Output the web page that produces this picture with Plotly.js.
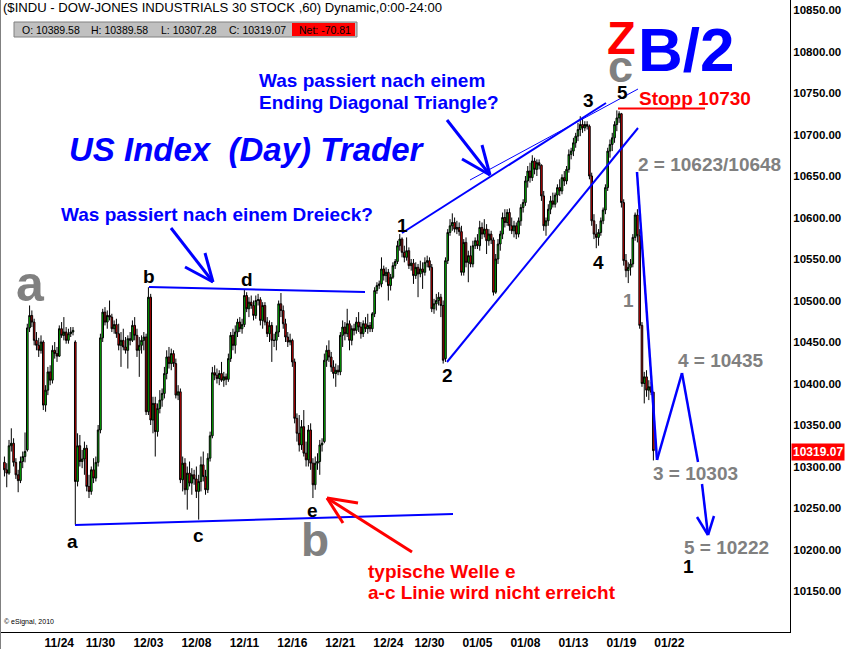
<!DOCTYPE html>
<html>
<head>
<meta charset="utf-8">
<script src="https://cdn.plot.ly/plotly-3.0.1.min.js"></script>
<style>html,body{margin:0;padding:0;background:#fff;}#chart{width:847px;height:649px;}</style>
</head>
<body>
<div id="chart"></div>
<script>
// ---------------- DATA (hourly bars, $INDU, 60 min) ----------------
const tickLabels = ['11/24','11/30','12/03','12/08','12/11','12/16','12/21','12/24','12/30','01/05','01/08','01/13','01/19','01/22'];
const tickBars   = [17,35,56,77,98,119,140,161,179,200,221,242,263,284];
const priceTicks = [10150,10200,10250,10300,10350,10400,10450,10500,10550,10600,10650,10700,10750,10800,10850];
const netChange = -70.81;

const open = [
10305,10296,10292,
10325,10328,10305,10290,10283,10306,10312,
10320,10467,10482,10474,10452,10446,10440,
10450,10374,10392,10414,10404,10440,10436,
10433,10466,10458,10462,10452,10460,10462,
10450,10282,10325,10306,
10309,10322,10276,10270,10296,10286,10305,
10344,10455,10486,10474,10482,10480,10466,
10471,10460,10446,10452,10444,10440,10454,
10452,10470,10458,10440,10446,10452,10456,
10366,10504,10356,10376,10342,10370,10380,
10388,10412,10432,10424,10436,10424,10386,
10390,10284,10304,10272,10292,10280,10290,
10285,10270,10282,10302,10288,10272,10310,
10337,10413,10410,10406,10412,10404,10408,
10405,10430,10458,10446,10462,10474,10466,
10471,10506,10490,10498,10494,10482,10500,
10501,10476,10494,10474,10460,10470,10452,
10452,10462,10496,10488,10472,10456,10450,
10452,10426,10358,10340,10326,10348,10316,
10308,10344,10304,10278,10304,10306,10326,
10330,10428,10440,10432,10420,10412,10416,
10414,10458,10468,10460,10472,10452,10466,
10464,10474,10468,10460,10472,10466,10470,
10466,10484,10512,10518,
10520,10538,10530,10534,10518,10528,10542,
10547,10566,10574,10558,10552,10560,10542,
10545,10530,10540,10532,10538,10534,10546,
10548,10540,10490,10496,10500,10504,10494,
10430,10548,10582,10590,10594,10586,10588,
10583,10534,10570,10546,10554,10544,10566,
10572,10566,10588,10580,10586,10572,10580,
10573,10510,10550,10568,10580,10600,10594,
10606,10590,10584,10590,10580,10596,10612,
10618,10644,10656,10648,10668,10658,10666,
10663,10626,10590,10596,10610,10620,10616,
10627,10636,10632,10648,10644,10658,10676,
10680,10690,10698,10706,10712,10708,10712,
10710,10650,10596,10580,10576,10582,10596,
10609,10636,10680,10688,10696,10712,10720,
10725,10618,10548,10536,10540,10544,10576,
10603,10578,10470,10400,10408,10392,10396,
10389.58
];
const high = [
10312,10304,10332,
10346,10334,10310,10296,10312,10318,10341,
10472,10494,10488,10478,10462,10455,10458,
10452,10398,10420,10422,10446,10450,10444,
10470,10474,10480,10468,10466,10468,10468,
10452,10340,10338,10320,
10330,10326,10290,10300,10310,10312,10350,
10460,10490,10492,10488,10500,10484,10476,
10478,10472,10462,10466,10456,10458,10462,
10476,10480,10466,10456,10458,10462,10460,
10516,10508,10384,10384,10376,10392,10394,
10420,10440,10444,10442,10440,10430,10398,
10394,10312,10310,10300,10306,10298,10296,
10300,10290,10312,10318,10296,10316,10342,
10420,10422,10418,10416,10426,10414,10412,
10436,10462,10466,10470,10478,10480,10478,
10513,10510,10504,10506,10500,10506,10508,
10504,10498,10498,10480,10476,10474,10460,
10470,10500,10509,10494,10478,10462,10460,
10454,10430,10364,10362,10356,10368,10330,
10350,10352,10310,10312,10316,10332,10334,
10436,10446,10452,10438,10428,10424,10422,
10462,10476,10474,10490,10476,10470,10472,
10480,10486,10474,10476,10480,10484,10474,
10486,10516,10522,10524,
10552,10542,10540,10538,10532,10546,10550,
10572,10580,10576,10566,10576,10564,10550,
10550,10546,10544,10548,10546,10552,10554,
10552,10544,10502,10508,10510,10508,10500,
10552,10586,10598,10605,10600,10596,10594,
10590,10574,10576,10560,10566,10572,10576,
10580,10596,10594,10598,10592,10586,10584,
10576,10556,10574,10584,10606,10610,10610,
10611,10600,10596,10594,10600,10616,10622,
10650,10662,10666,10675,10672,10670,10670,
10664,10632,10600,10616,10626,10630,10630,
10640,10646,10652,10656,10662,10682,10684,
10696,10702,10714,10722,10720,10716,10716,
10712,10654,10604,10592,10586,10600,10612,
10640,10684,10694,10702,10716,10729,10728,
10726,10622,10556,10546,10550,10580,10606,
10610,10586,10474,10414,10416,10404,10402,
10389.58
];
const low = [
10288,10275,10290,
10318,10300,10285,10269,10280,10298,10305,
10318,10462,10468,10446,10440,10432,10436,
10368,10366,10386,10398,10400,10430,10426,
10432,10455,10452,10448,10448,10456,10458,
10230,10276,10300,10298,
10290,10270,10262,10266,10280,10282,10300,
10340,10450,10470,10466,10476,10462,10460,
10455,10440,10420,10440,10436,10418,10446,
10450,10452,10432,10408,10436,10440,10362,
10362,10350,10340,10312,10336,10364,10372,
10382,10405,10418,10416,10420,10382,10380,
10280,10270,10266,10248,10276,10266,10278,
10262,10236,10270,10282,10266,10268,10306,
10334,10404,10400,10398,10402,10396,10398,
10402,10426,10440,10436,10456,10462,10460,
10468,10486,10480,10490,10476,10478,10494,
10470,10466,10470,10456,10450,10426,10444,
10440,10456,10480,10466,10450,10444,10446,
10420,10352,10330,10318,10320,10312,10300,
10300,10296,10262,10272,10296,10290,10318,
10328,10420,10426,10414,10406,10396,10410,
10410,10444,10452,10456,10440,10446,10458,
10460,10462,10454,10456,10462,10460,10462,
10462,10480,10508,10514,
10516,10524,10522,10500,10512,10526,10538,
10544,10560,10552,10546,10548,10538,10536,
10520,10526,10504,10528,10514,10530,10540,
10536,10486,10484,10488,10494,10480,10424,
10426,10544,10578,10584,10582,10580,10578,
10530,10530,10540,10522,10540,10540,10562,
10562,10560,10574,10576,10556,10566,10568,
10506,10508,10544,10560,10574,10588,10590,
10584,10580,10576,10574,10576,10590,10606,
10614,10636,10642,10644,10652,10650,10658,
10620,10584,10578,10590,10604,10612,10612,
10618,10626,10628,10638,10640,10654,10670,
10674,10684,10692,10698,10702,10704,10706,
10646,10590,10574,10563,10566,10578,10592,
10604,10632,10672,10680,10690,10704,10714,
10612,10542,10528,10521,10530,10540,10572,
10570,10466,10396,10376,10384,10380,10386,
10307.28
];
const close = [
10296,10292,10325,
10328,10305,10290,10283,10306,10312,10318,
10467,10482,10474,10452,10446,10440,10450,
10374,10392,10414,10404,10440,10436,10433,
10466,10458,10462,10452,10460,10462,10464,
10282,10325,10306,10309,
10322,10276,10270,10296,10286,10305,10344,
10455,10486,10474,10482,10480,10466,10471,
10460,10446,10452,10444,10440,10454,10452,
10470,10458,10440,10446,10452,10456,10366,
10504,10356,10376,10342,10370,10380,10388,
10412,10432,10424,10436,10424,10386,10390,
10284,10304,10272,10292,10280,10290,10285,
10270,10282,10302,10288,10272,10310,10337,
10413,10410,10406,10412,10404,10408,10405,
10430,10458,10446,10462,10474,10466,10471,
10506,10490,10498,10494,10482,10500,10501,
10476,10494,10474,10460,10470,10452,10452,
10462,10496,10488,10472,10456,10450,10452,
10426,10358,10340,10326,10348,10316,10308,
10344,10304,10278,10304,10306,10326,10328,
10428,10440,10432,10420,10412,10416,10414,
10458,10468,10460,10472,10452,10466,10464,
10474,10468,10460,10472,10466,10470,10466,
10484,10512,10518,10520,
10538,10530,10534,10518,10528,10542,10547,
10566,10574,10558,10552,10560,10542,10545,
10530,10540,10532,10538,10534,10546,10548,
10540,10490,10496,10500,10504,10494,10428,
10548,10582,10590,10594,10586,10588,10583,
10534,10570,10546,10554,10544,10566,10572,
10566,10588,10580,10586,10572,10580,10573,
10510,10550,10568,10580,10600,10594,10606,
10590,10584,10590,10580,10596,10612,10618,
10644,10656,10648,10668,10658,10666,10663,
10626,10590,10596,10610,10620,10616,10627,
10636,10632,10648,10644,10658,10676,10680,
10690,10698,10706,10712,10708,10712,10710,
10650,10596,10580,10576,10582,10596,10609,
10636,10680,10688,10696,10712,10720,10725,
10618,10548,10536,10540,10544,10576,10603,
10578,10470,10400,10408,10392,10396,10389.58,
10319.07
];

// ---------------- GEOMETRY ----------------
const W = 847, H = 649;
const M = {l: 1, r: 57, t: 0, b: 17};
const PW = W - M.l - M.r, PH = H - M.t - M.b;
const BAR_X0 = 4.45, BAR_PX = 2.285;       // pixel of bar 0, pixels per bar
const PRICE_Y0 = 10, PX_PER_PT = 0.83;      // pixel of 10850, pixels per point
const ix = px => (px - BAR_X0) / BAR_PX;
const ip = py => 10850 - (py - PRICE_Y0) / PX_PER_PT;
const yOf = p => PRICE_Y0 + (10850 - p) * PX_PER_PT;
const fx = px => (px - M.l) / PW;            // pixel -> paper
const fy = py => 1 - (py - M.t) / PH;

const FONT = 'Liberation Sans, Arial, Helvetica, sans-serif';
const BLUE = '#0000ff', RED = '#ff0000', GRAY = '#808080';

const n = close.length;
const xs = close.map((_, i) => i);
const last = n - 1;

function T(text, x, y, size, color, o) {
  o = o || {};
  return {xref: 'paper', yref: 'paper', x: fx(x), y: fy(y), text: text, showarrow: false,
    xanchor: o.xa || 'left', yanchor: 'middle', borderpad: o.pad || 0,
    bgcolor: o.bg || 'rgba(0,0,0,0)',
    font: {family: FONT, size: size, color: color, weight: o.w || 'bold', style: o.style || 'normal'}};
}
function L(x0, y0, x1, y1, color, width) {
  return {type: 'line', xref: 'paper', yref: 'paper', x0: fx(x0), y0: fy(y0), x1: fx(x1), y1: fy(y1),
    line: {color: color, width: width}};
}
function R(x0, y0, x1, y1, fill, lc, lw) {
  return {type: 'rect', xref: 'paper', yref: 'paper', x0: fx(x0), y0: fy(y0), x1: fx(x1), y1: fy(y1),
    fillcolor: fill, line: {color: lc || fill, width: lw || 0}, layer: 'above'};
}

const shapes = [
  L(0.5, -5, 0.5, 649, GRAY, 1),
  R(14, 22, 357, 37, '#c0c0c0', '#808080', 1),
  R(292, 23, 355, 36, RED),
  // triangle b-d and a-c lines
  L(149, 287, 365, 292, BLUE, 2),
  L(75, 525, 453, 514, BLUE, 2),
  // ending diagonal
  L(402, 233, 606, 103, BLUE, 2),
  L(470, 180, 638, 89, BLUE, 1),
  L(447, 362, 638, 128, BLUE, 2),
  // arrow to triangle
  L(171, 228, 213, 282, BLUE, 3), L(185, 267, 213, 282, BLUE, 3), L(205, 253, 213, 282, BLUE, 3),
  // arrow to ending diagonal
  L(447, 120, 490, 175, BLUE, 3), L(462, 159, 490, 175, BLUE, 3), L(482, 145, 490, 175, BLUE, 3),
  // projection 2-3-4-5
  L(637, 172, 657, 460, BLUE, 2.5), L(657, 460, 682, 373, BLUE, 2.5), L(682, 373, 698, 462, BLUE, 2.5),
  L(702, 484, 708, 535, BLUE, 2.5), L(697, 517, 708, 535, BLUE, 2.5), L(714, 516, 708, 535, BLUE, 2.5),
  // red arrow to wave e
  L(412, 552, 327, 498, RED, 3), L(358, 503, 327, 498, RED, 3), L(343, 523, 327, 498, RED, 3),
  // stop line
  L(618, yOf(10730) - 1, 705, yOf(10730) - 1, RED, 2)
];

const annotations = [
  T('($INDU - DOW-JONES INDUSTRIALS 30 STOCK ,60) Dynamic,0:00-24:00', 2, 8, 13.1, 'black', {w: 'normal'}),
  T('O: ' + open[last].toFixed(2), 21, 29.5, 10.5, 'black', {w: 'normal'}),
  T('H: ' + high[last].toFixed(2), 90, 29.5, 10.5, 'black', {w: 'normal'}),
  T('L: ' + low[last].toFixed(2), 160, 29.5, 10.5, 'black', {w: 'normal'}),
  T('C: ' + close[last].toFixed(2), 228, 29.5, 10.5, 'black', {w: 'normal'}),
  T('Net: ' + netChange.toFixed(2), 298, 29.5, 10.5, 'black', {w: 'normal'}),
  T('US Index&nbsp; (Day) Trader', 68, 150, 33, BLUE, {style: 'italic'}),
  T('Was passiert nach einem', 258, 80, 19, BLUE),
  T('Ending Diagonal Triangle?', 258, 103, 19, BLUE),
  T('Was passiert nach einem Dreieck?', 60, 214, 19, BLUE),
  // wave counts
  T('1', 402, 225, 19, 'black', {xa: 'center'}),
  T('2', 447, 376, 19, 'black', {xa: 'center'}),
  T('3', 588, 101, 19, 'black', {xa: 'center'}),
  T('4', 598, 262, 19, 'black', {xa: 'center'}),
  T('5', 622, 92, 19, 'black', {xa: 'center'}),
  T('1', 688, 566, 19, 'black', {xa: 'center'}),
  T('a', 72, 541.5, 19, 'black', {xa: 'center'}),
  T('b', 149, 276, 19, 'black', {xa: 'center'}),
  T('c', 198.5, 535.5, 19, 'black', {xa: 'center'}),
  T('d', 247, 280, 19, 'black', {xa: 'center'}),
  T('e', 312, 510.5, 19, 'black', {xa: 'center'}),
  T('a', 30, 284, 50, GRAY, {xa: 'center'}),
  T('b', 314.5, 540, 46, GRAY, {xa: 'center'}),
  T('c', 620, 66, 45, GRAY, {xa: 'center'}),
  T('Z', 621, 38, 47, RED, {xa: 'center'}),
  T('B/2', 686, 49.5, 62, BLUE, {xa: 'center'}),
  T('Stopp 10730', 638, 99, 19, RED),
  T('2 = 10623/10648', 637, 164, 19, GRAY),
  T('1', 628, 300, 19, GRAY, {xa: 'center'}),
  T('4 = 10435', 677, 360, 19, GRAY),
  T('3 = 10303', 652, 473, 19, GRAY),
  T('5 = 10222', 683, 547, 19, GRAY),
  T('typische Welle e', 367, 571, 19, RED),
  T('a-c Linie wird nicht erreicht', 367, 592, 19, RED),
  T('\u00a9 eSignal, 2010', 3, 622, 7, 'black', {w: 'normal'}),
  T(close[last].toFixed(2), 791, yOf(close[last]) + 1, 12, 'white', {bg: RED, pad: 1})
];

const trace = {
  type: 'candlestick', x: xs, open: open, high: high, low: low, close: close,
  increasing: {line: {color: 'black', width: 1}, fillcolor: '#00dd00'},
  decreasing: {line: {color: 'black', width: 1}, fillcolor: '#ee0000'},
  whiskerwidth: 0, hoverinfo: 'skip', showlegend: false
};

const layout = {
  width: W, height: H, margin: M,
  paper_bgcolor: 'white', plot_bgcolor: 'white',
  showlegend: false, hovermode: false, boxgap: 0,
  xaxis: {
    range: [ix(M.l), ix(W - M.r)], showgrid: false, zeroline: false,
    showline: true, linecolor: 'black', linewidth: 1, ticks: '',
    tickmode: 'array', tickvals: tickBars, ticktext: tickLabels, ticklabelshift: 16,
    tickfont: {family: FONT, size: 12, color: 'black', weight: 'bold'},
    rangeslider: {visible: false}, fixedrange: true
  },
  yaxis: {
    range: [ip(H - M.b), ip(M.t)], side: 'right', showgrid: false, zeroline: false,
    showline: true, linecolor: 'black', linewidth: 1, ticks: '',
    tickmode: 'array', tickvals: priceTicks, ticktext: priceTicks.map(v => v.toFixed(2)),
    tickfont: {family: FONT, size: 11.5, color: 'black', weight: 'bold'}, fixedrange: true
  },
  shapes: shapes,
  annotations: annotations
};

Plotly.newPlot('chart', [trace], layout, {displayModeBar: false, staticPlot: true});
</script>
</body>
</html>
